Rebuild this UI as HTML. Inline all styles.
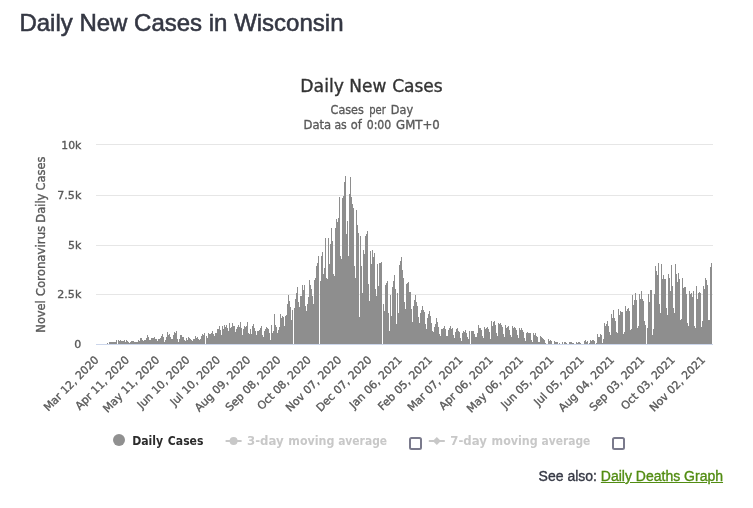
<!DOCTYPE html>
<html lang="en">
<head>
<meta charset="utf-8">
<title>Daily New Cases in Wisconsin</title>
<style>
html,body{margin:0;padding:0;background:#fff;}
body{width:753px;height:508px;position:relative;overflow:hidden;font-family:"Liberation Sans",Arial,Helvetica,sans-serif;color:#363945;}
h3{position:absolute;left:19.4px;top:9px;margin:0;font-size:24px;line-height:28px;font-weight:normal;color:#343743;white-space:nowrap;-webkit-text-stroke:0.55px #343743;}
.see{position:absolute;left:538.6px;top:467px;font-size:14px;line-height:18px;white-space:nowrap;color:#363945;-webkit-text-stroke:0.35px #363945;}
.see a{color:#528c12;text-decoration:underline;-webkit-text-stroke:0.35px #528c12;}
svg{position:absolute;left:0;top:0;}
svg text{font-family:"DejaVu Sans","Liberation Sans",sans-serif;}
.cb{position:absolute;box-sizing:border-box;width:13px;height:13px;border:2px solid #7a7a8c;border-radius:2.5px;background:#fff;}
</style>
</head>
<body>
<h3>Daily New Cases in Wisconsin</h3>
<svg width="753" height="508" viewBox="0 0 753 508" >
<g font-size="16.8" fill="#333333" stroke="#333333" stroke-width="0.35"><text><tspan x="300.33" y="92" textLength="43.58" lengthAdjust="spacingAndGlyphs">Daily</tspan> <tspan x="349.36" y="92" textLength="37.01" lengthAdjust="spacingAndGlyphs">New</tspan> <tspan x="392.19" y="92" textLength="50.48" lengthAdjust="spacingAndGlyphs">Cases</tspan></text></g>
<g font-size="12" fill="#595959" stroke="#595959" stroke-width="0.35">
<text><tspan x="330.62" y="114" textLength="33.16" lengthAdjust="spacingAndGlyphs">Cases</tspan> <tspan x="369.16" y="114" textLength="16.58" lengthAdjust="spacingAndGlyphs">per</tspan> <tspan x="390.84" y="114" textLength="22.22" lengthAdjust="spacingAndGlyphs">Day</tspan></text>
<text><tspan x="303.51" y="129" textLength="27.68" lengthAdjust="spacingAndGlyphs">Data</tspan> <tspan x="334.42" y="129" textLength="12.33" lengthAdjust="spacingAndGlyphs">as</tspan> <tspan x="350.8" y="129" textLength="11.02" lengthAdjust="spacingAndGlyphs">of</tspan> <tspan x="366.72" y="129" textLength="24.53" lengthAdjust="spacingAndGlyphs">0:00</tspan> <tspan x="396.09" y="129" textLength="43.69" lengthAdjust="spacingAndGlyphs">GMT+0</tspan></text>
</g>
<rect x="96" y="144" width="617" height="1" fill="#e6e6e6"/><rect x="96" y="195" width="617" height="1" fill="#e6e6e6"/><rect x="96" y="245" width="617" height="1" fill="#e6e6e6"/><rect x="96" y="294" width="617" height="1" fill="#e6e6e6"/>
<path d="M107 344v-1h1v1zM109 344v-2h1v2zM110 344v-2h1v2zM111 344v-2h1v2zM112 344v-2h1v2zM113 344v-2h1v2zM114 344v-2h1v2zM115 344v-2h1v2zM116 344v-4h1v4zM118 344v-4h1v4zM119 344v-3h1v3zM120 344v-4h1v4zM121 344v-3h1v3zM122 344v-3h1v3zM123 344v-3h1v3zM124 344v-4h1v4zM125 344v-2h1v2zM126 344v-4h1v4zM127 344v-3h1v3zM128 344v-2h1v2zM129 344v-1h1v1zM130 344v-2h1v2zM131 344v-3h1v3zM132 344v-3h1v3zM133 344v-3h1v3zM134 344v-2h1v2zM135 344v-2h1v2zM136 344v-2h1v2zM137 344v-2h1v2zM138 344v-4h1v4zM139 344v-3h1v3zM140 344v-6h1v6zM141 344v-6h1v6zM142 344v-4h1v4zM143 344v-3h1v3zM144 344v-4h1v4zM145 344v-4h1v4zM146 344v-6h1v6zM147 344v-9h1v9zM148 344v-7h1v7zM149 344v-4h1v4zM150 344v-4h1v4zM151 344v-6h1v6zM152 344v-6h1v6zM153 344v-6h1v6zM154 344v-7h1v7zM155 344v-5h1v5zM156 344v-5h1v5zM157 344v-3h1v3zM158 344v-5h1v5zM159 344v-5h1v5zM160 344v-6h1v6zM161 344v-8h1v8zM162 344v-10h1v10zM163 344v-7h1v7zM164 344v-2h1v2zM165 344v-4h1v4zM166 344v-7h1v7zM167 344v-12h1v12zM168 344v-9h1v9zM169 344v-10h1v10zM170 344v-7h1v7zM171 344v-5h1v5zM172 344v-5h1v5zM173 344v-9h1v9zM174 344v-12h1v12zM175 344v-11h1v11zM176 344v-13h1v13zM177 344v-5h1v5zM178 344v-2h1v2zM179 344v-5h1v5zM180 344v-9h1v9zM181 344v-9h1v9zM182 344v-7h1v7zM183 344v-7h1v7zM184 344v-4h1v4zM185 344v-3h1v3zM186 344v-6h1v6zM187 344v-4h1v4zM188 344v-7h1v7zM189 344v-6h1v6zM190 344v-5h1v5zM191 344v-4h1v4zM192 344v-3h1v3zM193 344v-5h1v5zM194 344v-5h1v5zM195 344v-8h1v8zM196 344v-6h1v6zM197 344v-7h1v7zM198 344v-5h1v5zM199 344v-4h1v4zM200 344v-5h1v5zM201 344v-8h1v8zM202 344v-10h1v10zM203 344v-9h1v9zM204 344v-11h1v11zM206 344v-8h1v8zM207 344v-6h1v6zM208 344v-11h1v11zM209 344v-10h1v10zM210 344v-10h1v10zM211 344v-11h1v11zM212 344v-13h1v13zM213 344v-10h1v10zM214 344v-8h1v8zM215 344v-11h1v11zM216 344v-11h1v11zM217 344v-15h1v15zM218 344v-15h1v15zM219 344v-18h1v18zM220 344v-14h1v14zM221 344v-9h1v9zM222 344v-18h1v18zM223 344v-15h1v15zM224 344v-19h1v19zM225 344v-17h1v17zM226 344v-19h1v19zM227 344v-16h1v16zM228 344v-13h1v13zM229 344v-21h1v21zM230 344v-16h1v16zM231 344v-17h1v17zM232 344v-21h1v21zM233 344v-18h1v18zM234 344v-18h1v18zM235 344v-12h1v12zM236 344v-15h1v15zM237 344v-17h1v17zM238 344v-19h1v19zM239 344v-17h1v17zM240 344v-22h1v22zM241 344v-16h1v16zM242 344v-9h1v9zM243 344v-15h1v15zM244 344v-18h1v18zM245 344v-17h1v17zM246 344v-18h1v18zM247 344v-22h1v22zM248 344v-11h1v11zM249 344v-10h1v10zM250 344v-15h1v15zM251 344v-10h1v10zM252 344v-18h1v18zM253 344v-20h1v20zM254 344v-16h1v16zM255 344v-13h1v13zM256 344v-9h1v9zM257 344v-13h1v13zM258 344v-13h1v13zM259 344v-14h1v14zM260 344v-16h1v16zM261 344v-18h1v18zM262 344v-9h1v9zM263 344v-7h1v7zM264 344v-13h1v13zM265 344v-15h1v15zM266 344v-17h1v17zM267 344v-16h1v16zM268 344v-15h1v15zM269 344v-11h1v11zM270 344v-4h1v4zM271 344v-19h1v19zM272 344v-11h1v11zM273 344v-13h1v13zM274 344v-30h1v30zM275 344v-19h1v19zM276 344v-17h1v17zM277 344v-11h1v11zM278 344v-14h1v14zM279 344v-17h1v17zM280 344v-30h1v30zM281 344v-26h1v26zM282 344v-28h1v28zM283 344v-27h1v27zM284 344v-18h1v18zM285 344v-28h1v28zM286 344v-29h1v29zM287 344v-40h1v40zM288 344v-49h1v49zM289 344v-43h1v43zM290 344v-37h1v37zM291 344v-24h1v24zM292 344v-34h1v34zM294 344v-36h1v36zM295 344v-45h1v45zM296 344v-51h1v51zM297 344v-57h1v57zM298 344v-42h1v42zM299 344v-37h1v37zM300 344v-48h1v48zM301 344v-48h1v48zM302 344v-59h1v59zM303 344v-54h1v54zM304 344v-59h1v59zM305 344v-38h1v38zM306 344v-33h1v33zM307 344v-40h1v40zM308 344v-47h1v47zM309 344v-64h1v64zM310 344v-59h1v59zM311 344v-55h1v55zM312 344v-48h1v48zM313 344v-40h1v40zM314 344v-64h1v64zM315 344v-66h1v66zM316 344v-78h1v78zM317 344v-81h1v81zM318 344v-88h1v88zM320 344v-63h1v63zM321 344v-88h1v88zM322 344v-92h1v92zM323 344v-70h1v70zM324 344v-76h1v76zM325 344v-106h1v106zM326 344v-66h1v66zM327 344v-65h1v65zM328 344v-106h1v106zM329 344v-80h1v80zM330 344v-100h1v100zM331 344v-116h1v116zM332 344v-103h1v103zM333 344v-70h1v70zM334 344v-68h1v68zM335 344v-116h1v116zM336 344v-125h1v125zM337 344v-122h1v122zM338 344v-126h1v126zM339 344v-147h1v147zM340 344v-88h1v88zM341 344v-85h1v85zM342 344v-146h1v146zM343 344v-148h1v148zM344 344v-162h1v162zM345 344v-168h1v168zM346 344v-110h1v110zM347 344v-123h1v123zM348 344v-88h1v88zM349 344v-150h1v150zM350 344v-167h1v167zM351 344v-147h1v147zM352 344v-140h1v140zM353 344v-136h1v136zM354 344v-78h1v78zM355 344v-66h1v66zM356 344v-134h1v134zM357 344v-119h1v119zM358 344v-111h1v111zM359 344v-27h1v27zM360 344v-108h1v108zM361 344v-78h1v78zM362 344v-51h1v51zM363 344v-94h1v94zM364 344v-90h1v90zM365 344v-108h1v108zM366 344v-110h1v110zM367 344v-113h1v113zM368 344v-60h1v60zM369 344v-43h1v43zM370 344v-93h1v93zM371 344v-80h1v80zM372 344v-94h1v94zM373 344v-87h1v87zM374 344v-91h1v91zM375 344v-55h1v55zM376 344v-48h1v48zM377 344v-80h1v80zM378 344v-58h1v58zM379 344v-81h1v81zM380 344v-81h1v81zM381 344v-82h1v82zM383 344v-40h1v40zM384 344v-33h1v33zM385 344v-59h1v59zM386 344v-61h1v61zM387 344v-63h1v63zM388 344v-31h1v31zM389 344v-13h1v13zM390 344v-49h1v49zM391 344v-28h1v28zM392 344v-57h1v57zM393 344v-63h1v63zM394 344v-69h1v69zM395 344v-55h1v55zM396 344v-20h1v20zM397 344v-51h1v51zM398 344v-31h1v31zM399 344v-79h1v79zM400 344v-83h1v83zM401 344v-87h1v87zM402 344v-74h1v74zM403 344v-66h1v66zM404 344v-42h1v42zM405 344v-35h1v35zM406 344v-60h1v60zM407 344v-61h1v61zM408 344v-62h1v62zM409 344v-52h1v52zM410 344v-52h1v52zM411 344v-35h1v35zM412 344v-22h1v22zM413 344v-38h1v38zM414 344v-44h1v44zM415 344v-49h1v49zM416 344v-42h1v42zM417 344v-38h1v38zM418 344v-27h1v27zM419 344v-21h1v21zM420 344v-31h1v31zM421 344v-34h1v34zM422 344v-38h1v38zM423 344v-34h1v34zM424 344v-32h1v32zM425 344v-20h1v20zM426 344v-15h1v15zM427 344v-26h1v26zM428 344v-30h1v30zM429 344v-33h1v33zM430 344v-28h1v28zM431 344v-21h1v21zM432 344v-13h1v13zM433 344v-12h1v12zM434 344v-17h1v17zM435 344v-20h1v20zM436 344v-26h1v26zM437 344v-22h1v22zM438 344v-17h1v17zM439 344v-10h1v10zM440 344v-8h1v8zM441 344v-15h1v15zM442 344v-15h1v15zM443 344v-16h1v16zM444 344v-18h1v18zM445 344v-15h1v15zM446 344v-8h1v8zM447 344v-8h1v8zM448 344v-14h1v14zM449 344v-16h1v16zM450 344v-18h1v18zM451 344v-15h1v15zM452 344v-16h1v16zM453 344v-9h1v9zM454 344v-6h1v6zM455 344v-12h1v12zM456 344v-15h1v15zM457 344v-16h1v16zM458 344v-13h1v13zM459 344v-12h1v12zM460 344v-6h1v6zM461 344v-3h1v3zM462 344v-11h1v11zM463 344v-13h1v13zM464 344v-12h1v12zM465 344v-14h1v14zM466 344v-11h1v11zM467 344v-7h1v7zM468 344v-5h1v5zM469 344v-13h1v13zM471 344v-13h1v13zM472 344v-13h1v13zM473 344v-13h1v13zM474 344v-10h1v10zM475 344v-7h1v7zM476 344v-7h1v7zM477 344v-11h1v11zM478 344v-19h1v19zM479 344v-16h1v16zM480 344v-16h1v16zM481 344v-14h1v14zM482 344v-8h1v8zM483 344v-6h1v6zM484 344v-17h1v17zM485 344v-15h1v15zM486 344v-16h1v16zM487 344v-17h1v17zM488 344v-15h1v15zM489 344v-12h1v12zM490 344v-5h1v5zM491 344v-23h1v23zM492 344v-18h1v18zM493 344v-22h1v22zM494 344v-23h1v23zM495 344v-19h1v19zM496 344v-11h1v11zM497 344v-8h1v8zM498 344v-21h1v21zM499 344v-20h1v20zM500 344v-21h1v21zM501 344v-19h1v19zM502 344v-17h1v17zM503 344v-10h1v10zM504 344v-7h1v7zM505 344v-19h1v19zM506 344v-16h1v16zM507 344v-17h1v17zM508 344v-18h1v18zM509 344v-14h1v14zM510 344v-9h1v9zM511 344v-7h1v7zM512 344v-18h1v18zM513 344v-16h1v16zM514 344v-17h1v17zM515 344v-16h1v16zM516 344v-14h1v14zM517 344v-9h1v9zM518 344v-6h1v6zM519 344v-16h1v16zM520 344v-14h1v14zM521 344v-16h1v16zM522 344v-14h1v14zM523 344v-12h1v12zM524 344v-6h1v6zM525 344v-3h1v3zM526 344v-11h1v11zM527 344v-12h1v12zM528 344v-11h1v11zM529 344v-11h1v11zM530 344v-11h1v11zM531 344v-4h1v4zM532 344v-2h1v2zM533 344v-11h1v11zM534 344v-9h1v9zM535 344v-11h1v11zM536 344v-8h1v8zM537 344v-7h1v7zM538 344v-2h1v2zM539 344v-2h1v2zM540 344v-8h1v8zM541 344v-7h1v7zM542 344v-6h1v6zM543 344v-5h1v5zM544 344v-4h1v4zM545 344v-1h1v1zM548 344v-5h1v5zM549 344v-3h1v3zM550 344v-4h1v4zM551 344v-3h1v3zM554 344v-3h1v3zM555 344v-2h1v2zM556 344v-2h1v2zM557 344v-2h1v2zM559 344v-1h1v1zM562 344v-2h1v2zM564 344v-2h1v2zM565 344v-2h1v2zM566 344v-1h1v1zM569 344v-2h1v2zM570 344v-2h1v2zM571 344v-2h1v2zM572 344v-1h1v1zM573 344v-1h1v1zM576 344v-2h1v2zM577 344v-1h1v1zM578 344v-2h1v2zM579 344v-2h1v2zM580 344v-1h1v1zM584 344v-3h1v3zM585 344v-4h1v4zM586 344v-2h1v2zM587 344v-3h1v3zM589 344v-1h1v1zM590 344v-4h1v4zM591 344v-3h1v3zM592 344v-4h1v4zM593 344v-4h1v4zM594 344v-3h1v3zM596 344v-1h1v1zM597 344v-10h1v10zM598 344v-7h1v7zM599 344v-7h1v7zM600 344v-10h1v10zM601 344v-9h1v9zM602 344v-1h1v1zM603 344v-5h1v5zM604 344v-21h1v21zM605 344v-18h1v18zM606 344v-20h1v20zM607 344v-23h1v23zM608 344v-18h1v18zM609 344v-12h1v12zM610 344v-9h1v9zM611 344v-30h1v30zM612 344v-26h1v26zM613 344v-34h1v34zM614 344v-26h1v26zM615 344v-23h1v23zM616 344v-12h1v12zM617 344v-11h1v11zM618 344v-35h1v35zM619 344v-29h1v29zM620 344v-33h1v33zM621 344v-32h1v32zM622 344v-32h1v32zM623 344v-10h1v10zM624 344v-12h1v12zM625 344v-38h1v38zM626 344v-33h1v33zM627 344v-35h1v35zM628 344v-36h1v36zM629 344v-33h1v33zM630 344v-14h1v14zM631 344v-15h1v15zM632 344v-49h1v49zM633 344v-39h1v39zM634 344v-44h1v44zM635 344v-51h1v51zM636 344v-44h1v44zM637 344v-16h1v16zM638 344v-18h1v18zM639 344v-50h1v50zM640 344v-45h1v45zM641 344v-53h1v53zM642 344v-45h1v45zM643 344v-43h1v43zM644 344v-23h1v23zM645 344v-19h1v19zM647 344v-16h1v16zM648 344v-50h1v50zM649 344v-42h1v42zM650 344v-54h1v54zM651 344v-54h1v54zM652 344v-9h1v9zM653 344v-15h1v15zM654 344v-50h1v50zM655 344v-78h1v78zM656 344v-73h1v73zM657 344v-69h1v69zM658 344v-81h1v81zM659 344v-40h1v40zM660 344v-31h1v31zM661 344v-80h1v80zM662 344v-65h1v65zM663 344v-69h1v69zM664 344v-65h1v65zM665 344v-65h1v65zM666 344v-36h1v36zM667 344v-29h1v29zM668 344v-70h1v70zM669 344v-66h1v66zM670 344v-53h1v53zM671 344v-79h1v79zM672 344v-58h1v58zM673 344v-36h1v36zM674 344v-31h1v31zM675 344v-80h1v80zM676 344v-70h1v70zM677 344v-62h1v62zM678 344v-71h1v71zM679 344v-65h1v65zM680 344v-24h1v24zM681 344v-25h1v25zM682 344v-66h1v66zM683 344v-56h1v56zM684 344v-57h1v57zM685 344v-57h1v57zM686 344v-50h1v50zM687 344v-21h1v21zM688 344v-18h1v18zM689 344v-53h1v53zM690 344v-50h1v50zM691 344v-51h1v51zM692 344v-47h1v47zM693 344v-53h1v53zM694 344v-18h1v18zM695 344v-16h1v16zM696 344v-58h1v58zM697 344v-45h1v45zM698 344v-51h1v51zM699 344v-52h1v52zM700 344v-51h1v51zM701 344v-17h1v17zM702 344v-23h1v23zM703 344v-58h1v58zM704 344v-55h1v55zM705 344v-66h1v66zM706 344v-64h1v64zM707 344v-59h1v59zM708 344v-24h1v24zM709 344v-24h1v24zM710 344v-77h1v77zM711 344v-81h1v81z" fill="#8e8e8e" shape-rendering="crispEdges"/>
<rect x="96" y="344" width="617" height="1" fill="#ccd6eb"/>
<g font-size="11" fill="#595959" stroke="#595959" stroke-width="0.35">
<text x="61.3" y="148.5" textLength="20" lengthAdjust="spacingAndGlyphs">10k</text>
<text x="57.3" y="198.5" textLength="24" lengthAdjust="spacingAndGlyphs">7.5k</text>
<text x="68.1" y="248.5" textLength="13.2" lengthAdjust="spacingAndGlyphs">5k</text>
<text x="57.3" y="297.5" textLength="24" lengthAdjust="spacingAndGlyphs">2.5k</text>
<text x="74.3" y="347.5" textLength="7" lengthAdjust="spacingAndGlyphs">0</text>
</g>
<g font-size="12" fill="#595959" stroke="#595959" stroke-width="0.35"><g transform="translate(45.4 332.0) rotate(-90)"><text><tspan x="-0.67" y="0" textLength="32.45" lengthAdjust="spacingAndGlyphs">Novel</tspan> <tspan x="35.69" y="0" textLength="70.55" lengthAdjust="spacingAndGlyphs">Coronavirus</tspan> <tspan x="109.32" y="0" textLength="29.13" lengthAdjust="spacingAndGlyphs">Daily</tspan> <tspan x="141.61" y="0" textLength="33.88" lengthAdjust="spacingAndGlyphs">Cases</tspan></text></g></g>
<g font-size="11" fill="#595959" stroke="#595959" stroke-width="0.35">
<g transform="translate(99.50 360.5) rotate(-45)"><text x="-72.59" y="0" textLength="72.59" lengthAdjust="spacingAndGlyphs">Mar 12, 2020</text></g>
<g transform="translate(129.82 360.5) rotate(-45)"><text x="-70.87" y="0" textLength="70.87" lengthAdjust="spacingAndGlyphs">Apr 11, 2020</text></g>
<g transform="translate(160.14 360.5) rotate(-45)"><text x="-74.56" y="0" textLength="74.56" lengthAdjust="spacingAndGlyphs">May 11, 2020</text></g>
<g transform="translate(190.46 360.5) rotate(-45)"><text x="-69.04" y="0" textLength="69.04" lengthAdjust="spacingAndGlyphs">Jun 10, 2020</text></g>
<g transform="translate(220.78 360.5) rotate(-45)"><text x="-65.17" y="0" textLength="65.17" lengthAdjust="spacingAndGlyphs">Jul 10, 2020</text></g>
<g transform="translate(251.10 360.5) rotate(-45)"><text x="-73.3" y="0" textLength="73.3" lengthAdjust="spacingAndGlyphs">Aug 09, 2020</text></g>
<g transform="translate(281.42 360.5) rotate(-45)"><text x="-72.56" y="0" textLength="72.56" lengthAdjust="spacingAndGlyphs">Sep 08, 2020</text></g>
<g transform="translate(311.74 360.5) rotate(-45)"><text x="-70.86" y="0" textLength="70.86" lengthAdjust="spacingAndGlyphs">Oct 08, 2020</text></g>
<g transform="translate(342.06 360.5) rotate(-45)"><text x="-73.29" y="0" textLength="73.29" lengthAdjust="spacingAndGlyphs">Nov 07, 2020</text></g>
<g transform="translate(372.38 360.5) rotate(-45)"><text x="-73.12" y="0" textLength="73.12" lengthAdjust="spacingAndGlyphs">Dec 07, 2020</text></g>
<g transform="translate(402.70 360.5) rotate(-45)"><text x="-68.81" y="0" textLength="68.81" lengthAdjust="spacingAndGlyphs">Jan 06, 2021</text></g>
<g transform="translate(433.02 360.5) rotate(-45)"><text x="-71.32" y="0" textLength="71.32" lengthAdjust="spacingAndGlyphs">Feb 05, 2021</text></g>
<g transform="translate(463.34 360.5) rotate(-45)"><text x="-72.59" y="0" textLength="72.59" lengthAdjust="spacingAndGlyphs">Mar 07, 2021</text></g>
<g transform="translate(493.66 360.5) rotate(-45)"><text x="-70.87" y="0" textLength="70.87" lengthAdjust="spacingAndGlyphs">Apr 06, 2021</text></g>
<g transform="translate(523.98 360.5) rotate(-45)"><text x="-74.56" y="0" textLength="74.56" lengthAdjust="spacingAndGlyphs">May 06, 2021</text></g>
<g transform="translate(554.30 360.5) rotate(-45)"><text x="-69.04" y="0" textLength="69.04" lengthAdjust="spacingAndGlyphs">Jun 05, 2021</text></g>
<g transform="translate(584.62 360.5) rotate(-45)"><text x="-65.17" y="0" textLength="65.17" lengthAdjust="spacingAndGlyphs">Jul 05, 2021</text></g>
<g transform="translate(614.94 360.5) rotate(-45)"><text x="-73.3" y="0" textLength="73.3" lengthAdjust="spacingAndGlyphs">Aug 04, 2021</text></g>
<g transform="translate(645.26 360.5) rotate(-45)"><text x="-72.56" y="0" textLength="72.56" lengthAdjust="spacingAndGlyphs">Sep 03, 2021</text></g>
<g transform="translate(675.58 360.5) rotate(-45)"><text x="-70.86" y="0" textLength="70.86" lengthAdjust="spacingAndGlyphs">Oct 03, 2021</text></g>
<g transform="translate(705.90 360.5) rotate(-45)"><text x="-73.29" y="0" textLength="73.29" lengthAdjust="spacingAndGlyphs">Nov 02, 2021</text></g>
</g>
<g font-size="12" font-weight="bold">
<circle cx="119" cy="440" r="6" fill="#909090"/>
<g fill="#2b2b2b"><text><tspan x="132.18" y="445" textLength="31.04" lengthAdjust="spacingAndGlyphs">Daily</tspan> <tspan x="167.83" y="445" textLength="35.59" lengthAdjust="spacingAndGlyphs">Cases</tspan></text></g>
<path d="M225.6 441H241.6" stroke="#c8c8c8" stroke-width="2"/>
<circle cx="233.6" cy="441" r="4" fill="#c8c8c8"/>
<g fill="#c8c8c8"><text><tspan x="247.06" y="445" textLength="36.75" lengthAdjust="spacingAndGlyphs">3-day</tspan> <tspan x="288.37" y="445" textLength="46.11" lengthAdjust="spacingAndGlyphs">moving</tspan> <tspan x="338.15" y="445" textLength="48.94" lengthAdjust="spacingAndGlyphs">average</tspan></text></g>
<path d="M428.8 441H444.8" stroke="#c8c8c8" stroke-width="2"/>
<path d="M436.8 437l4 4l-4 4l-4 -4z" fill="#c8c8c8"/>
<g fill="#c8c8c8"><text><tspan x="450.27" y="445" textLength="36.65" lengthAdjust="spacingAndGlyphs">7-day</tspan> <tspan x="491.57" y="445" textLength="46.11" lengthAdjust="spacingAndGlyphs">moving</tspan> <tspan x="541.56" y="445" textLength="48.74" lengthAdjust="spacingAndGlyphs">average</tspan></text></g>
</g>
</svg>
<span class="cb" style="left:409px;top:437px;"></span>
<span class="cb" style="left:612px;top:437px;"></span>
<div class="see">See also: <a href="#">Daily Deaths Graph</a></div>
</body>
</html>
